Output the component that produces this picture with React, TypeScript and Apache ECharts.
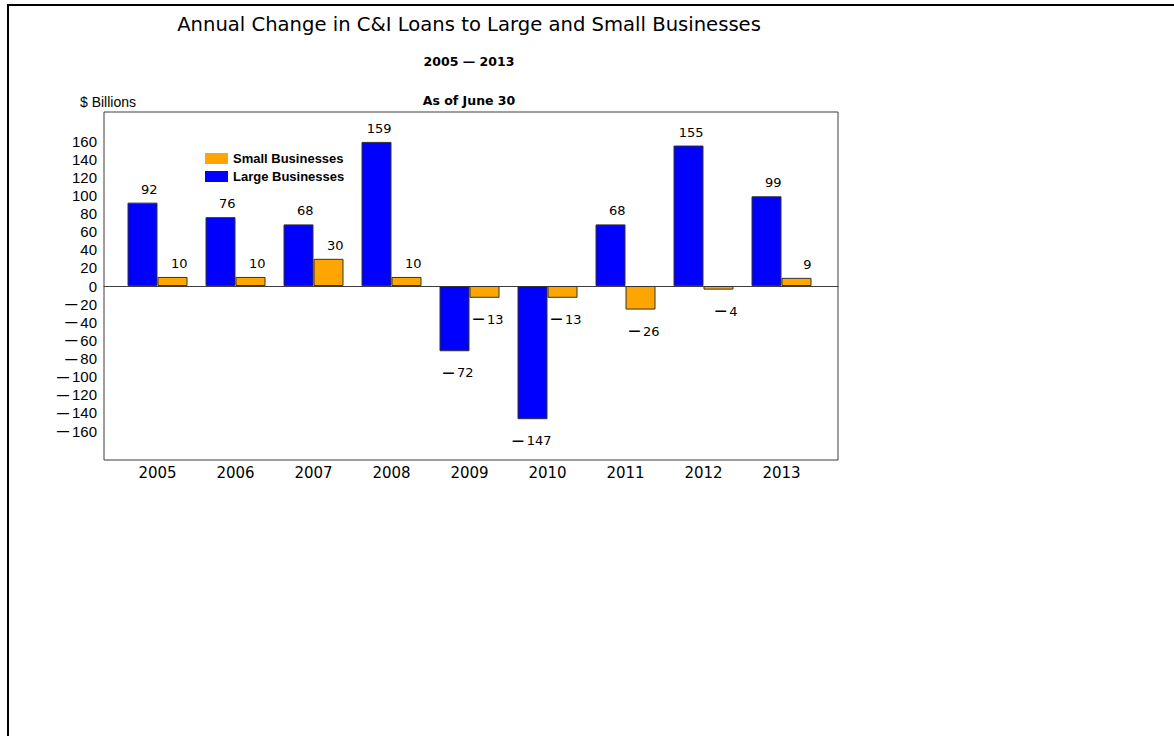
import React, { useEffect, useRef } from "react";
import * as echarts from "echarts";

const years = ["2005", "2006", "2007", "2008", "2009", "2010", "2011", "2012", "2013"];
const largeValues = [92, 76, 68, 159, -72, -147, 68, 155, 99];
const smallValues = [10, 10, 30, 10, -13, -13, -26, -4, 9];
const yTicks = [-160, -140, -120, -100, -80, -60, -40, -20, 0, 20, 40, 60, 80, 100, 120, 140, 160];
const yMin = -192;
const yMax = 192;

const TITLE = "Annual Change in C&I Loans to Large and Small Businesses";
const SUBTITLE = "2005 \u2014 2013";
const SUBTITLE2 = "As of June 30";
const YUNIT = "$ Billions";
const LARGE = "Large Businesses";
const SMALL = "Small Businesses";

const BLUE = "#0000FF";
const ORANGE = "#FFA500";
const FRAME = "#3c3c3c";

function fmtValue(v: number): string {
  return v < 0 ? "{d|\u2014}\u2009" + Math.abs(v) : String(v);
}

function makeData(vals: number[]) {
  return vals.map((v) => ({
    value: v,
    label:
      v >= 0
        ? { position: "top", distance: 7, offset: [15, 0] }
        : { position: "bottom", distance: 15, offset: [19, 0] },
  }));
}

export default function App() {
  const ref = useRef<HTMLDivElement>(null);

  useEffect(() => {
    if (!ref.current) return;
    const chart = echarts.init(ref.current, null, { renderer: "svg" });

    const labelCommon = {
      show: true,
      align: "right",
      color: "#000",
      fontFamily: "DejaVu Sans",
      fontSize: 13,
      formatter: (p: any) => fmtValue(p.value),
      rich: {
        d: { fontFamily: "DejaVu Sans", fontWeight: "bold", fontSize: 12, color: "#000" },
      },
    };

    const option: any = {
      animation: false,
      backgroundColor: "#ffffff",
      graphic: [
        { type: "line", shape: { x1: 7, y1: 5, x2: 1174, y2: 5 }, style: { stroke: "#000", lineWidth: 2 } },
        { type: "line", shape: { x1: 8, y1: 4, x2: 8, y2: 736 }, style: { stroke: "#000", lineWidth: 2 } },
        {
          type: "text",
          x: 469,
          y: 24,
          style: { text: TITLE, fill: "#000", font: "19.6px 'DejaVu Sans'", textAlign: "center", textVerticalAlign: "middle" },
        },
        {
          type: "text",
          x: 469,
          y: 61,
          style: { text: SUBTITLE, fill: "#000", font: "bold 12.5px 'DejaVu Sans'", textAlign: "center", textVerticalAlign: "middle" },
        },
        {
          type: "text",
          x: 469,
          y: 100,
          style: { text: SUBTITLE2, fill: "#000", font: "bold 12.5px 'DejaVu Sans'", textAlign: "center", textVerticalAlign: "middle" },
        },
        {
          type: "text",
          x: 80,
          y: 102,
          style: { text: YUNIT, fill: "#000", font: "14px 'Liberation Sans'", textAlign: "left", textVerticalAlign: "middle" },
        },
      ],
      legend: {
        data: [SMALL, LARGE],
        orient: "vertical",
        left: 205,
        top: 152,
        padding: 0,
        itemWidth: 23,
        itemHeight: 11,
        itemGap: 5,
        icon: "rect",
        itemStyle: { borderWidth: 0 },
        textStyle: { fontFamily: "Liberation Sans", fontWeight: "bold", fontSize: 13, color: "#000" },
      },
      grid: [
        { left: 118.5, top: 112, width: 702, height: 348, containLabel: false },
        {
          left: 104,
          top: 112,
          width: 734,
          height: 348,
          show: true,
          borderColor: FRAME,
          borderWidth: 1,
          backgroundColor: "transparent",
          containLabel: false,
        },
      ],
      xAxis: [
        {
          type: "category",
          gridIndex: 0,
          data: years,
          axisLine: { show: false },
          axisTick: { show: false },
          splitLine: { show: false },
          axisLabel: { margin: 5, color: "#000", fontFamily: "DejaVu Sans", fontSize: 15 },
        },
        {
          type: "value",
          gridIndex: 1,
          min: 0,
          max: 1,
          axisLine: { show: true, onZero: true, lineStyle: { color: FRAME, width: 1 } },
          axisTick: { show: false },
          axisLabel: { show: false },
          splitLine: { show: false },
        },
      ],
      yAxis: [
        {
          type: "value",
          gridIndex: 0,
          min: yMin,
          max: yMax,
          axisLine: { show: false },
          axisTick: { show: false },
          splitLine: { show: false },
          axisLabel: {
            customValues: yTicks,
            margin: 21.5,
            color: "#000",
            fontFamily: "Liberation Sans",
            fontSize: 15,
            formatter: (v: number) => fmtValue(v),
            rich: {
              d: { fontFamily: "Liberation Sans", fontWeight: "bold", fontSize: 12, color: "#000" },
            },
          },
        },
        {
          type: "value",
          gridIndex: 1,
          min: yMin,
          max: yMax,
          axisLine: { show: false },
          axisTick: { show: false },
          splitLine: { show: false },
          axisLabel: { show: false },
        },
      ],
      series: [
        {
          name: LARGE,
          type: "bar",
          xAxisIndex: 0,
          yAxisIndex: 0,
          barWidth: 30,
          barGap: "0%",
          itemStyle: { color: BLUE, borderColor: "#333", borderWidth: 1 },
          label: labelCommon,
          data: makeData(largeValues),
          z: 3,
        },
        {
          name: SMALL,
          type: "bar",
          xAxisIndex: 0,
          yAxisIndex: 0,
          barWidth: 30,
          barGap: "0%",
          itemStyle: { color: ORANGE, borderColor: "#333", borderWidth: 1 },
          label: labelCommon,
          data: makeData(smallValues),
          z: 3,
        },
      ],
    };

    chart.setOption(option);
    return () => chart.dispose();
  }, []);

  return (
    <div
      ref={ref}
      style={{ position: "absolute", left: 0, top: 0, width: 1174, height: 736, background: "#fff" }}
    />
  );
}
